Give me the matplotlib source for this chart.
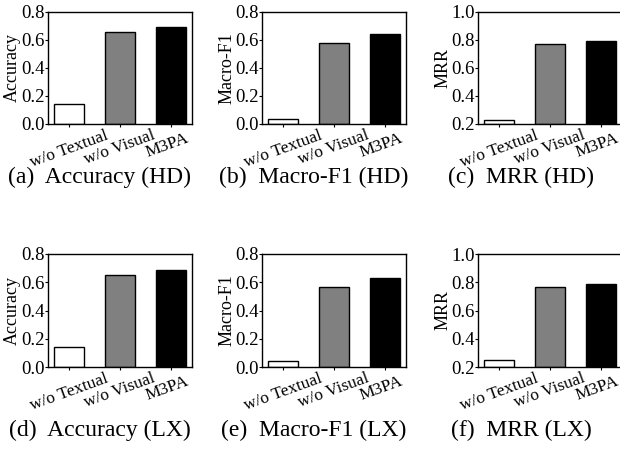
import matplotlib
matplotlib.use("Agg")
import matplotlib.pyplot as plt
import matplotlib.transforms as mtransforms

plt.rcParams["font.family"] = ["Liberation Serif", "DejaVu Serif"]

models = ["w/o Textual", "w/o Visual", "M3PA"]
colors = ["white", "#808080", "black"]

acc_hd = [0.14, 0.66, 0.695]
f1_hd = [0.035, 0.58, 0.64]
mrr_hd = [0.23, 0.77, 0.795]
acc_lx = [0.142, 0.653, 0.684]
f1_lx = [0.043, 0.567, 0.63]
mrr_lx = [0.248, 0.769, 0.789]

panels = [
    (acc_hd, "Accuracy", (0.0, 0.8), [0.0, 0.2, 0.4, 0.6, 0.8], "(a)  Accuracy (HD)"),
    (f1_hd, "Macro-F1", (0.0, 0.8), [0.0, 0.2, 0.4, 0.6, 0.8], "(b)  Macro-F1 (HD)"),
    (mrr_hd, "MRR", (0.2, 1.0), [0.2, 0.4, 0.6, 0.8, 1.0], "(c)  MRR (HD)"),
    (acc_lx, "Accuracy", (0.0, 0.8), [0.0, 0.2, 0.4, 0.6, 0.8], "(d)  Accuracy (LX)"),
    (f1_lx, "Macro-F1", (0.0, 0.8), [0.0, 0.2, 0.4, 0.6, 0.8], "(e)  Macro-F1 (LX)"),
    (mrr_lx, "MRR", (0.2, 1.0), [0.2, 0.4, 0.6, 0.8, 1.0], "(f)  MRR (LX)"),
]

W, H = 620, 462
fig = plt.figure(figsize=(W / 100, H / 100), dpi=100)

lefts = [48, 262, 478]
rows = [(12, 124), (254, 367)]
cap_x = [100, 314, 521]
cap_y = [177, 430]

# the last label sits a little left of (and below) its tick in the original
shift = mtransforms.ScaledTranslation(-4 / 100, -3 / 100, fig.dpi_scale_trans)

for i, (vals, ylab, ylim, yticks, cap) in enumerate(panels):
    r, c = divmod(i, 3)
    top, bot = rows[r]
    ax = fig.add_axes([lefts[c] / W, 1 - bot / H, 144 / W, (bot - top) / H])
    ymin = ylim[0]
    ax.bar(range(3), [v - ymin for v in vals], bottom=ymin, width=0.59,
           color=colors, edgecolor="black", linewidth=1.0)
    ax.set_xlim(-0.42, 2.42)
    ax.set_ylim(*ylim)
    ax.set_yticks(yticks)
    ax.set_yticklabels([f"{t:.1f}" for t in yticks], fontsize=13.5)
    ax.set_xticks(range(3))
    ax.set_xticklabels(models, rotation=20, ha="center", fontsize=12.5)
    ax.tick_params(axis="both", length=2, width=0.8, pad=0.5)
    lab = ax.xaxis.get_major_ticks()[-1].label1
    lab.set_transform(lab.get_transform() + shift)
    ax.set_ylabel(ylab, fontsize=13, labelpad=0)
    for s in ax.spines.values():
        s.set_linewidth(1.0)
    fig.text(cap_x[c] / W, 1 - cap_y[r] / H, cap, ha="center", va="center",
             fontsize=17)

fig.savefig("out.png", dpi=100)
